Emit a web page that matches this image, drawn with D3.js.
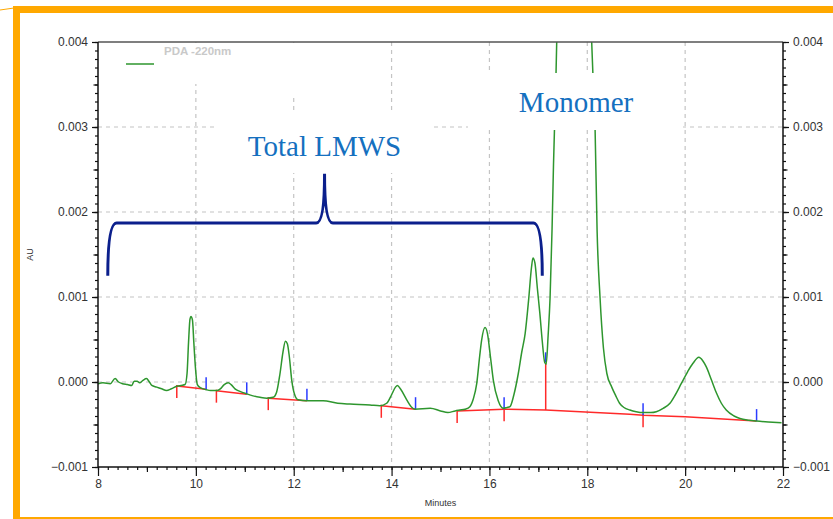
<!DOCTYPE html>
<html>
<head>
<meta charset="utf-8">
<script src="https://cdn.jsdelivr.net/npm/d3@7"></script>
<style>
  body { margin: 0; background: #fff; }
  svg { display: block; font-family: "Liberation Sans", Arial, sans-serif; }
</style>
</head>
<body>
<div id="chart"></div>
<script>
// chromatogram trace (minutes, AU)
const minutes = [8.00, 8.10, 8.25, 8.35, 8.42, 8.50, 8.60, 8.69, 8.74, 8.80, 8.85, 8.92, 8.99, 9.05, 9.10, 9.20, 9.30, 9.40, 9.50, 9.61,
  9.70, 9.78, 9.82, 9.85, 9.88, 9.90, 9.93, 9.96, 9.99, 10.03, 10.10, 10.21, 10.30, 10.42, 10.50, 10.58, 10.66, 10.72, 10.80, 10.90,
  11.04, 11.15, 11.31, 11.45, 11.58, 11.65, 11.72, 11.78, 11.83, 11.87, 11.91, 11.96, 12.02, 12.09, 12.27, 12.60, 12.90, 13.15, 13.56, 13.76,
  13.90, 14.00, 14.08, 14.12, 14.18, 14.31, 14.40, 14.48, 14.79, 15.00, 15.15, 15.30, 15.40, 15.50, 15.60, 15.67, 15.74, 15.80, 15.84, 15.91,
  15.96, 16.02, 16.08, 16.18, 16.29, 16.36, 16.42, 16.50, 16.59, 16.66, 16.73, 16.80, 16.86, 16.89, 16.93, 16.98, 17.03, 17.08, 17.13, 17.16,
  17.20, 17.24, 17.28, 17.31, 17.36, 17.42, 17.50, 17.62, 17.75, 17.88, 18.00, 18.09, 18.13, 18.16, 18.20, 18.26, 18.33, 18.40, 18.50, 18.58,
  18.66, 18.75, 18.87, 19.00, 19.14, 19.30, 19.41, 19.55, 19.69, 19.80, 19.92, 20.05, 20.16, 20.28, 20.36, 20.43, 20.54, 20.64, 20.74, 20.84,
  21.00, 21.12, 21.30, 21.46, 21.70, 21.97];
const absorbance = [-0.00002, -0.00001, -0.00002, 0.00004, 0.00000, -0.00002, -0.00003, -0.00004, 0.00001, 0.00001, -0.00001, 0.00002, 0.00004, 0.00000, -0.00004, -0.00006, -0.00008, -0.00010, -0.00008, -0.00005,
  -0.00004, -0.00003, 0.00010, 0.00046, 0.00074, 0.00077, 0.00073, 0.00045, 0.00018, -0.00003, -0.00007, -0.00009, -0.00010, -0.00010, -0.00008, -0.00003, -0.00001, -0.00003, -0.00008, -0.00011,
  -0.00014, -0.00016, -0.00018, -0.00019, -0.00018, -0.00012, 0.00010, 0.00035, 0.00048, 0.00045, 0.00030, 0.00002, -0.00015, -0.00021, -0.00022, -0.00022, -0.00025, -0.00026, -0.00027, -0.00028,
  -0.00025, -0.00015, -0.00006, -0.00004, -0.00008, -0.00021, -0.00029, -0.00032, -0.00031, -0.00034, -0.00036, -0.00034, -0.00033, -0.00032, -0.00029, -0.00020, -0.00002, 0.00030, 0.00049, 0.00064,
  0.00057, 0.00030, 0.00002, -0.00022, -0.00031, -0.00030, -0.00029, -0.00015, 0.00010, 0.00035, 0.00057, 0.00096, 0.00135, 0.00146, 0.00140, 0.00110, 0.00081, 0.00048, 0.00023, 0.00021,
  0.00055, 0.00100, 0.00180, 0.00257, 0.00360, 0.00520, 0.00720, 0.00880, 0.00920, 0.00800, 0.00580, 0.00400, 0.00340, 0.00296, 0.00179, 0.00100, 0.00040, 0.00010, -0.00006, -0.00016,
  -0.00025, -0.00030, -0.00033, -0.00035, -0.00036, -0.00036, -0.00035, -0.00031, -0.00025, -0.00015, -0.00002, 0.00012, 0.00022, 0.00029, 0.00025, 0.00018, 0.00002, -0.00013, -0.00025, -0.00033,
  -0.00040, -0.00043, -0.00045, -0.00046, -0.00047, -0.00048];

// integration baselines (red), one array per segment
const baselineSegments = [
  [[9.61, -0.000047], [10.21, -0.000086]],
  [[10.42, -0.000102], [11.04, -0.000145]],
  [[11.48, -0.00019], [12.27, -0.00022]],
  [[13.79, -0.00028], [14.49, -0.00032]],
  [[15.34, -0.00034], [16.30, -0.00032], [17.15, -0.00033], [18.87, -0.00038], [19.14, -0.00039], [20.0, -0.00041], [21.46, -0.00046]]
];
// peak start marks (red, down) and end marks (blue, up)
const startMarks = [[9.61, -0.000047], [10.42, -0.000102], [11.48, -0.00019], [13.79, -0.00028], [15.34, -0.00034], [16.30, -0.00032], [19.14, -0.00039]];
const endMarks = [[10.21, -0.000086], [11.04, -0.000145], [12.27, -0.00022], [14.49, -0.00032], [16.30, -0.00032], [19.14, -0.00039], [21.46, -0.00046]];
// perpendicular drop between the last LMWS peak and the monomer
const dropLine = [[17.15, -0.00033], [17.15, 0.00022]];

const xTicks = [8, 10, 12, 14, 16, 18, 20, 22];
const yTicks = [-0.001, 0.000, 0.001, 0.002, 0.003, 0.004];
const xGrid = [10, 12, 14, 16, 18, 20];
const yGrid = [0.000, 0.001, 0.002, 0.003];

// "Total LMWS" brace, in minutes / AU
const braceMinutes = { left: 8.2, leftBend: 8.38, midLeft: 12.46, mid: 12.63, midRight: 12.8, rightBend: 16.9, right: 17.08 };
const braceAU = { foot: 0.00125, bar: 0.00187, tip: 0.00245 };

const width = 833, height = 519;
const plot = { left: 98, right: 783, top: 42, bottom: 467 };

const svg = d3.select("#chart").append("svg")
  .attr("width", width).attr("height", height);

svg.append("rect").attr("width", width).attr("height", height).attr("fill", "#fff");

// orange frame
svg.append("path")
  .attr("d", "M 940 9.5 L 16.5 9.5 L 16.5 520.5 L 940 520.5")
  .attr("fill", "none").attr("stroke", "#ffa800").attr("stroke-width", 7);
svg.append("line").attr("x1", 0).attr("y1", 10).attr("x2", 14).attr("y2", 8)
  .attr("stroke", "#ffa800").attr("stroke-width", 1);

const x = d3.scaleLinear().domain([8, 22]).range([plot.left, plot.right]);
const y = d3.scaleLinear().domain([-0.001, 0.004]).range([plot.bottom, plot.top]);

const gridColor = "#c4c4c4";
svg.append("g").selectAll("line").data(xGrid).join("line")
  .attr("x1", d => x(d)).attr("x2", d => x(d))
  .attr("y1", plot.top).attr("y2", plot.bottom)
  .attr("stroke", gridColor).attr("stroke-width", 1.2).attr("stroke-dasharray", "4,4");
svg.append("g").selectAll("line").data(yGrid).join("line")
  .attr("x1", plot.left).attr("x2", plot.right)
  .attr("y1", d => y(d)).attr("y2", d => y(d))
  .attr("stroke", gridColor).attr("stroke-width", 1.2).attr("stroke-dasharray", "4,4");

// white boxes behind the labels (they hide the grid)
[[105, 43, 195, 41], [280, 47, 30, 48], [218, 113, 215, 60], [468, 73, 215, 57]].forEach(([bx, by, bw, bh]) => {
  svg.append("rect").attr("x", bx).attr("y", by).attr("width", bw).attr("height", bh).attr("fill", "#fff");
});

svg.append("defs").append("clipPath").attr("id", "plotClip")
  .append("rect").attr("x", plot.left).attr("y", plot.top)
  .attr("width", plot.right - plot.left).attr("height", plot.bottom - plot.top);

// brace
const bracePath = d3.path();
bracePath.moveTo(x(braceMinutes.left), y(braceAU.foot));
bracePath.quadraticCurveTo(x(braceMinutes.left), y(braceAU.bar), x(braceMinutes.leftBend), y(braceAU.bar));
bracePath.lineTo(x(braceMinutes.midLeft), y(braceAU.bar));
bracePath.quadraticCurveTo(x(braceMinutes.mid), y(braceAU.bar), x(braceMinutes.mid), y(braceAU.tip));
bracePath.quadraticCurveTo(x(braceMinutes.mid), y(braceAU.bar), x(braceMinutes.midRight), y(braceAU.bar));
bracePath.lineTo(x(braceMinutes.rightBend), y(braceAU.bar));
bracePath.quadraticCurveTo(x(braceMinutes.right), y(braceAU.bar), x(braceMinutes.right), y(braceAU.foot));
svg.append("path").attr("d", bracePath.toString())
  .attr("fill", "none").attr("stroke", "#0b1f8c").attr("stroke-width", 3);

const chart = svg.append("g").attr("clip-path", "url(#plotClip)");

// baselines
const baseLine = d3.line().x(d => x(d[0])).y(d => y(d[1]));
chart.selectAll(".baseline").data(baselineSegments).join("path")
  .attr("class", "baseline")
  .attr("d", baseLine)
  .attr("fill", "none").attr("stroke", "#ff2a2a").attr("stroke-width", 1.5);
chart.append("path").attr("d", baseLine(dropLine))
  .attr("fill", "none").attr("stroke", "#ff2a2a").attr("stroke-width", 1.5);

chart.selectAll(".start-mark").data(startMarks).join("line")
  .attr("class", "start-mark")
  .attr("x1", d => x(d[0])).attr("x2", d => x(d[0]))
  .attr("y1", d => y(d[1]) - 1).attr("y2", d => y(d[1]) + 12)
  .attr("stroke", "#ff2a2a").attr("stroke-width", 1.5);
chart.selectAll(".end-mark").data(endMarks).join("line")
  .attr("class", "end-mark")
  .attr("x1", d => x(d[0])).attr("x2", d => x(d[0]))
  .attr("y1", d => y(d[1]) - 12).attr("y2", d => y(d[1]))
  .attr("stroke", "#2b3cff").attr("stroke-width", 1.5);
chart.append("line")
  .attr("x1", x(dropLine[1][0])).attr("x2", x(dropLine[1][0]))
  .attr("y1", y(dropLine[1][1]) - 11).attr("y2", y(dropLine[1][1]) - 1)
  .attr("stroke", "#2b3cff").attr("stroke-width", 1.5);

// trace
const trace = d3.line().x((d, i) => x(minutes[i])).y(d => y(d)).curve(d3.curveMonotoneX);
chart.append("path").attr("d", trace(absorbance))
  .attr("fill", "none").attr("stroke", "#2e962e").attr("stroke-width", 1.5);

// monomer label box hides the trace
svg.append("rect").attr("x", 468).attr("y", 73).attr("width", 215).attr("height", 57).attr("fill", "#fff");

// axes
const axisColor = "#111";
function styleAxis(g) {
  g.select(".domain").remove();
  g.selectAll("line").attr("stroke", axisColor).attr("stroke-width", 1.2);
  g.selectAll("text").attr("fill", "#333").style("font-size", "12px")
    .style("font-family", "'Liberation Sans', Arial, sans-serif");
}
const yMinor = d3.range(-10, 41).map(i => i / 10000);
const yMid = d3.range(-1, 8).map(i => i * 0.0005 + 0.0000);
const xMinor = d3.range(0, 71).map(i => 8 + i * 0.2);
const xMid = d3.range(9, 22, 2);

const yLeft = svg.append("g").attr("transform", `translate(${plot.left},0)`);
yLeft.append("g").call(d3.axisLeft(y).tickValues(yMinor).tickSize(3).tickFormat("")).call(styleAxis);
yLeft.append("g").call(d3.axisLeft(y).tickValues(yMid).tickSize(4.5).tickFormat("")).call(styleAxis);
yLeft.append("g").call(d3.axisLeft(y).tickValues(yTicks).tickSize(6).tickPadding(4).tickFormat(d3.format(".3f"))).call(styleAxis);

const yRight = svg.append("g").attr("transform", `translate(${plot.right},0)`);
yRight.append("g").call(d3.axisRight(y).tickValues(yMinor).tickSize(3).tickFormat("")).call(styleAxis);
yRight.append("g").call(d3.axisRight(y).tickValues(yMid).tickSize(4.5).tickFormat("")).call(styleAxis);
yRight.append("g").call(d3.axisRight(y).tickValues(yTicks).tickSize(6).tickPadding(4).tickFormat(d3.format(".3f"))).call(styleAxis);

const xBottom = svg.append("g").attr("transform", `translate(0,${plot.bottom})`);
xBottom.append("g").call(d3.axisBottom(x).tickValues(xMinor).tickSize(3).tickFormat("")).call(styleAxis);
xBottom.append("g").call(d3.axisBottom(x).tickValues(xMid).tickSize(5).tickFormat("")).call(styleAxis);
xBottom.append("g").call(d3.axisBottom(x).tickValues(xTicks).tickSize(9).tickPadding(3).tickFormat(d3.format("d"))).call(styleAxis);

// frame lines
svg.append("line").attr("x1", plot.left).attr("x2", plot.right).attr("y1", plot.top).attr("y2", plot.top)
  .attr("stroke", "#555").attr("stroke-width", 1.5);
svg.append("line").attr("x1", plot.left).attr("x2", plot.right).attr("y1", plot.bottom).attr("y2", plot.bottom)
  .attr("stroke", axisColor).attr("stroke-width", 1.5);
svg.append("line").attr("x1", plot.left).attr("x2", plot.left).attr("y1", plot.top).attr("y2", plot.bottom)
  .attr("stroke", axisColor).attr("stroke-width", 1.5);
svg.append("line").attr("x1", plot.right).attr("x2", plot.right).attr("y1", plot.top).attr("y2", plot.bottom)
  .attr("stroke", axisColor).attr("stroke-width", 1.5);

// axis titles
svg.append("text").attr("x", (plot.left + plot.right) / 2).attr("y", 506)
  .attr("text-anchor", "middle").attr("fill", "#333").style("font-size", "9px").text("Minutes");
svg.append("text").attr("transform", `translate(33,${(plot.top + plot.bottom) / 2}) rotate(-90)`)
  .attr("text-anchor", "middle").attr("fill", "#333").style("font-size", "9px").text("AU");

// legend
svg.append("line").attr("x1", 126).attr("x2", 154).attr("y1", 64).attr("y2", 64)
  .attr("stroke", "#2e962e").attr("stroke-width", 1.5);
svg.append("text").attr("x", 164).attr("y", 55)
  .attr("fill", "#c9c9c9").style("font-size", "11.5px").style("font-weight", "bold").text("PDA -220nm");

// annotations
svg.append("text").attr("x", x(braceMinutes.mid)).attr("y", y(0.00266))
  .attr("text-anchor", "middle").attr("fill", "#1570bf")
  .style("font-family", "'Liberation Serif', 'Times New Roman', serif").style("font-size", "29px")
  .text("Total LMWS");
svg.append("text").attr("x", x(17.77)).attr("y", y(0.00318))
  .attr("text-anchor", "middle").attr("fill", "#1570bf")
  .style("font-family", "'Liberation Serif', 'Times New Roman', serif").style("font-size", "29px")
  .text("Monomer");
</script>
</body>
</html>
